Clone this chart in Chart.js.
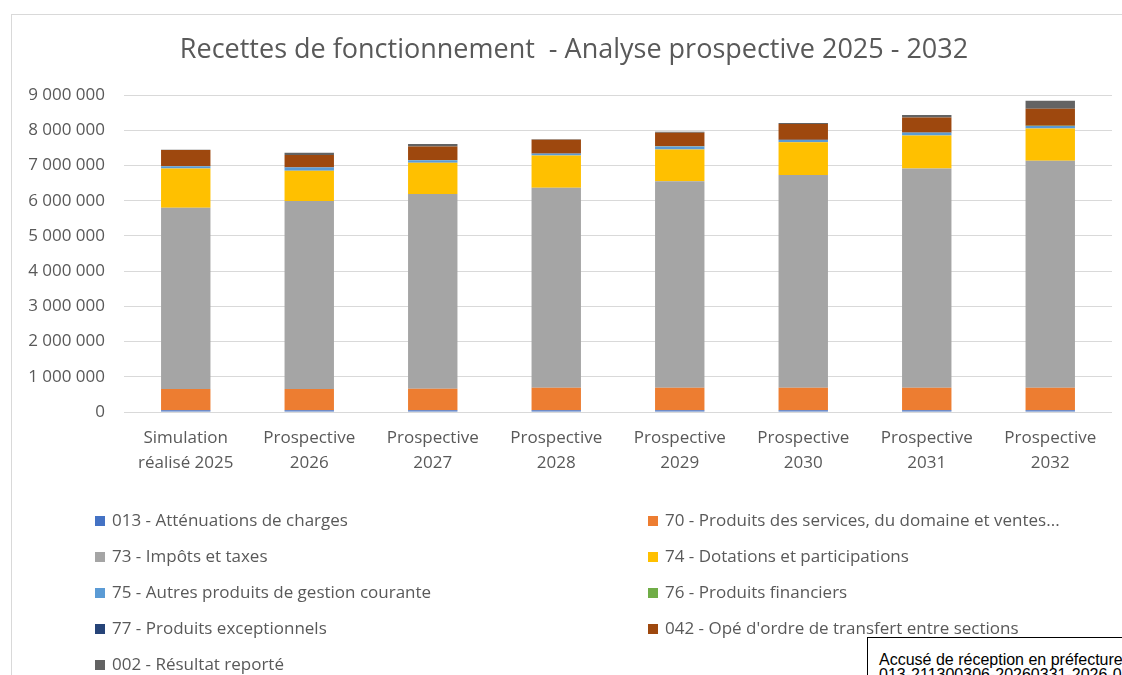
<!DOCTYPE html>
<html>
<head>
<meta charset="utf-8">
<script src="https://cdn.jsdelivr.net/npm/chart.js@4.4.1/dist/chart.umd.min.js"></script>
<style>
  body { margin: 0; background: #fff; overflow: hidden; }
  #wrap { position: relative; width: 1122px; height: 675px; }
  #frame { position: absolute; left: 11px; top: 14px; width: 1111px; height: 661px;
           border-left: 1px solid #d9d9d9; border-top: 1px solid #d9d9d9; }
  #chart { position: absolute; left: 0; top: 0; }
  #stamp { position: absolute; left: 867px; top: 637px; width: 300px; height: 60px;
           border: 1px solid #000; background: #fff; box-sizing: border-box;
           padding: 14px 0 0 11px; font: 16px "Liberation Sans", Arial, sans-serif;
           line-height: 15px; color: #000; white-space: nowrap; }
</style>
</head>
<body>
<div id="wrap">
  <div id="frame"></div>
  <canvas id="chart" width="1122" height="675"></canvas>
  <div id="stamp">Accusé de réception en préfecture<br>013-211300306-20260331-2026-0</div>
</div>
<script>
// Catégories (axe X)
var categories = [
    ['Simulation', 'réalisé 2025'],
    ['Prospective', '2026'],
    ['Prospective', '2027'],
    ['Prospective', '2028'],
    ['Prospective', '2029'],
    ['Prospective', '2030'],
    ['Prospective', '2031'],
    ['Prospective', '2032']
];

// Séries (en euros)
var attenuations013 = [50000, 50000, 50000, 50000, 50000, 50000, 50000, 50000];
var produits70 = [600000, 600000, 610000, 640000, 640000, 640000, 640000, 640000];
var impots73 = [5150000, 5340000, 5530000, 5680000, 5860000, 6040000, 6220000, 6440000];
var dotations74 = [1110000, 860000, 890000, 910000, 900000, 930000, 940000, 920000];
var autres75 = [70000, 90000, 70000, 50000, 90000, 60000, 75000, 70000];
var financiers76 = [5000, 5000, 5000, 5000, 5000, 5000, 5000, 5000];
var exceptionnels77 = [2000, 2000, 2000, 2000, 2000, 2000, 2000, 2000];
var ordre042 = [450000, 350000, 380000, 390000, 380000, 450000, 430000, 480000];
var resultat002 = [10000, 65000, 70000, 20000, 30000, 30000, 70000, 230000];

var seriesLabels = [
    '013 - Atténuations de charges',
    '70 - Produits des services, du domaine et ventes...',
    '73 - Impôts et taxes',
    '74 - Dotations et participations',
    '75 - Autres produits de gestion courante',
    '76 - Produits financiers',
    '77 - Produits exceptionnels',
    "042 - Opé d'ordre de transfert entre sections",
    '002 - Résultat reporté'
];
var seriesValues = [attenuations013, produits70, impots73, dotations74, autres75,
                    financiers76, exceptionnels77, ordre042, resultat002];
var seriesColors = ['#4472C4', '#ED7D31', '#A5A5A5', '#FFC000', '#5B9BD5',
                    '#70AD47', '#264478', '#9E480E', '#636363'];

var yTicks = [0, 1000000, 2000000, 3000000, 4000000, 5000000, 6000000, 7000000, 8000000, 9000000];

var chartTitle = 'Recettes de fonctionnement  - Analyse prospective 2025 - 2032';

var FONT = '"Open Sans", sans-serif';
var TEXT = '#595959';

function fmt(v) {
    return String(v).replace(/\B(?=(\d{3})+(?!\d))/g, ' ');
}

// Titre centré sur la zone du graphique Excel (légèrement décalé à droite)
var titlePlugin = {
    id: 'excelTitle',
    afterDraw: function(chart) {
        var ctx = chart.ctx;
        ctx.save();
        ctx.font = '27px ' + FONT;
        ctx.fillStyle = TEXT;
        ctx.textAlign = 'center';
        ctx.textBaseline = 'middle';
        ctx.fillText(chartTitle, 574, 50);
        ctx.restore();
    }
};

// Légende sur deux colonnes, comme dans Excel
var legendPlugin = {
    id: 'twoColLegend',
    afterDraw: function(chart) {
        var ctx = chart.ctx;
        var cols = [95, 648];
        var y0 = 521, step = 36;
        ctx.save();
        ctx.font = '17px ' + FONT;
        ctx.fillStyle = TEXT;
        ctx.textBaseline = 'middle';
        chart.data.datasets.forEach(function(ds, i) {
            var x = cols[i % 2];
            var y = y0 + Math.floor(i / 2) * step;
            ctx.fillStyle = ds.backgroundColor;
            ctx.fillRect(x, y - 5, 10, 10);
            ctx.fillStyle = TEXT;
            ctx.fillText(ds.label, x + 17, y);
        });
        ctx.restore();
    }
};

var datasets = seriesLabels.map(function(label, i) {
    return {
        label: label,
        data: seriesValues[i],
        backgroundColor: seriesColors[i],
        borderWidth: 0,
        barPercentage: 0.4,
        categoryPercentage: 1
    };
});

new Chart(document.getElementById('chart').getContext('2d'), {
    type: 'bar',
    data: { labels: categories, datasets: datasets },
    options: {
        responsive: false,
        animation: false,
        layout: { padding: { left: 0, right: 10, top: 95, bottom: 0 } },
        plugins: {
            legend: { display: false },
            tooltip: { enabled: false },
            title: { display: false }
        },
        scales: {
            x: {
                stacked: true,
                grid: { display: false, drawTicks: false },
                border: { display: false },
                ticks: {
                    color: TEXT,
                    font: { family: FONT, size: 17, lineHeight: 1.45 },
                    padding: 14,
                    maxRotation: 0,
                    autoSkip: false
                },
                afterFit: function(scale) { scale.height = 263; }
            },
            y: {
                stacked: true,
                min: 0,
                max: 9000000,
                afterBuildTicks: function(scale) {
                    scale.ticks = yTicks.map(function(v) { return { value: v }; });
                },
                grid: { color: '#d9d9d9', lineWidth: 1, drawTicks: false },
                border: { display: false },
                ticks: {
                    color: TEXT,
                    font: { family: FONT, size: 17 },
                    padding: 19,
                    callback: function(v) { return fmt(v); }
                },
                afterFit: function(scale) { scale.width = 124; }
            }
        }
    },
    plugins: [titlePlugin, legendPlugin]
});
</script>
</body>
</html>
